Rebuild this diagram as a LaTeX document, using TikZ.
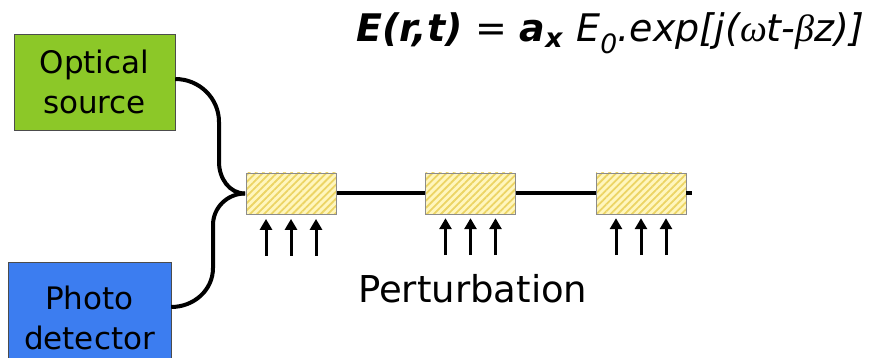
\documentclass[tikz,border=0pt]{standalone}
\usepackage{fontspec}
\setmainfont{DejaVu Sans}
\newfontfamily\greekfont{Liberation Serif}
\usepackage{xcolor}
\usetikzlibrary{arrows.meta}
\usetikzlibrary{positioning}
\usetikzlibrary{patterns.meta}

\definecolor{srcgreen}{RGB}{140,200,40}
\definecolor{detblue}{RGB}{60,125,240}
\definecolor{gratefill}{RGB}{255,246,190}
\definecolor{gratestripe}{RGB}{236,212,100}

\begin{document}
\begin{tikzpicture}[x=1pt, y=-1pt,
    % Boxes for the source and the detector
    unit box/.style={draw=black!70, thin, align=center, inner sep=0pt,
      font=\fontsize{31}{40}\selectfont},
    % Fibre grating sections
    grating/.style={draw=black!45, thin, minimum width=90pt, minimum height=41pt,
      inner sep=0pt, preaction={fill=gratefill},
      pattern={Lines[angle=45, distance=5pt, line width=1.8pt]}, pattern color=gratestripe},
    % Fibre line
    fibre/.style={line width=4pt, draw=black},
    % Perturbation arrows
    pert arrow/.style={-{Triangle[length=11pt, width=12pt]}, line width=3pt}
  ]
  \useasboundingbox (0,0) rectangle (895,358);

  % --- Node Definitions ---
  \node[unit box, fill=srcgreen, minimum width=161pt, minimum height=96pt] (src) at (94.5,82)
    {Optical\\source};
  \node[unit box, fill=detblue, minimum width=163pt, minimum height=112pt] (det) at (89.5,318)
    {Photo\\detector};

  \node[grating] (g1) at (291,193.5) {};
  \node[grating] (g2) at (470.5,193.5) {};
  \node[grating] (g3) at (641,193.5) {};
  \coordinate (fend) at (692,193.5);

  \node[anchor=base west, inner sep=0pt, font=\fontsize{37}{40}\selectfont] (pert) at (358,303)
    {Perturbation};
  \node[anchor=base west, inner sep=0pt, font=\fontsize{38}{40}\selectfont] (field) at (356,42)
    {\bfseries\itshape E(r,t) \mdseries= \bfseries a\textsubscript{x}
     \mdseries E\textsubscript{0}.exp[j({\greekfont ω}t-{\greekfont β}z)]};

  % --- Fibre ---
  \draw[fibre] ([yshift=3pt]src.east) to[out=0, in=90] (219,122) -- (219,162)
    to[out=-90, in=180] (g1.west);
  \draw[fibre] ([yshift=11pt]det.east) to[out=0, in=-90] (213,268) -- (213,225)
    to[out=90, in=180] (g1.west);
  \draw[fibre] (g1.east) -- (g2.west);
  \draw[fibre] (g2.east) -- (g3.west);
  \draw[fibre] (g3.east) -- (fend);

  % --- Perturbation arrows ---
  \foreach \g in {g1,g2,g3}
    \foreach \dx in {-25,0,25}
      \draw[pert arrow] ([xshift=\dx pt, yshift=-41pt]\g.south) -- ([xshift=\dx pt, yshift=-4pt]\g.south);

\end{tikzpicture}
\end{document}
